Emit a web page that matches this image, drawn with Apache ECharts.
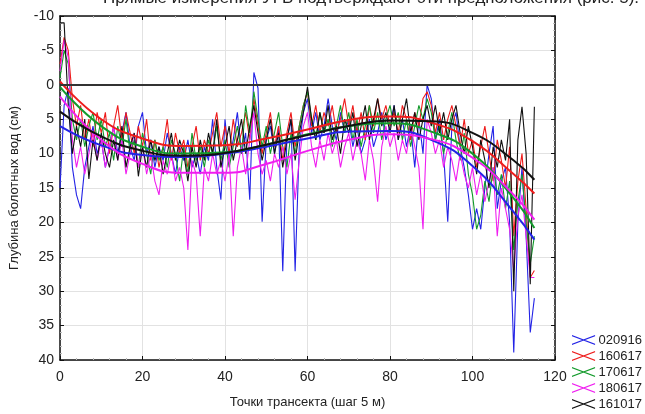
<!DOCTYPE html>
<html>
<head>
<meta charset="utf-8">
<script src="https://cdn.jsdelivr.net/npm/echarts@6/dist/echarts.min.js"></script>
<style>
  html, body { margin: 0; padding: 0; background: #fff; }
  #chart { width: 645px; height: 414px; }
</style>
</head>
<body>
<div id="chart"></div>
<script>
// названия серий (даты замеров) и цвета
const names = ["020916", "160617", "170617", "180617", "161017"];
const colors = ["#2323e6", "#ee1c1c", "#139a2b", "#f01ef0", "#111111"];

// глубина УГВ по точкам трансекта 0..115 (см)
const d020916 = [
  15, 3, 0.5, 12, 16, 18, 12, 9, 6, 10,
  8, 12, 9, 6, 10, 7, 4, 9, 11, 6,
  4, 10, 8, 12, 9, 11, 7, 10, 13, 9,
  11, 8, 12, 10, 13, 9, 11, 5, 12, 16.7,
  5, 11, 8, 4, 10, 7, 16.7, -1.8, 0.5, 19.9,
  8, 6, 10, 6, 27.1, 8, 5, 27.1, 9, 4,
  2, 7, 4, 8, 6, 2, 6, 8, 4, 7,
  5, 9, 6, 10, 8, 5, 9, 7, 4, 8,
  6, 3, 8, 5, 9, 6, 12, 5, 10, 0,
  2, 8, 5, 10, 19.9, 6, 4, 9, 12, 16,
  21, 18, 21, 15, 10, 6, 18, 14, 12, 20,
  38.9, 20, 12, 22, 36, 31
];
const d160617 = [
  -3, -6.9, -5, 2, 6, 3, 8, 5, 9, 4,
  7, 4, 10, 6, 3, 8, 4, 7, 10, 6,
  9, 5, 11, 8, 12, 9, 5, 11, 7, 10,
  8, 12, 9, 6, 11, 8, 10, 7, 4, 9,
  6, 10, 5, 9, 7, 4, 8, 2, 6, 10,
  7, 4, 9, 6, 11, 7, 4, 9, 6, 3,
  1, 6, 3, 7, 4, 6, 3, 7, 5, 2,
  6, 3, 7, 4, 8, 3, 6, 2, 5, 3,
  6, 4, 7, 3, 5, 8, 4, 6, 2, 1,
  3, 7, 4, 8, 5, 3, 6, 9, 5, 10,
  8, 12, 9, 6, 10, 14, 8, 11, 15, 9,
  22, 14, 10, 18, 28, 27
];
const d170617 = [
  -1, -5, -3, 5, 8, 5, 9, 6, 4, 8,
  5, 9, 7, 11, 6, 9, 5, 10, 8, 12,
  7, 10, 13, 8, 11, 9, 12, 8, 10, 14,
  9, 13, 7, 11, 9, 12, 8, 10, 6, 11,
  8, 12, 9, 6, 10, 3, 7, 1, 5, 9,
  6, 10, 7, 4, 9, 12, 7, 10, 6, 3,
  1, 5, 8, 4, 7, 5, 9, 6, 3, 7,
  4, 8, 5, 9, 6, 3, 7, 4, 8, 5,
  3, 6, 4, 8, 5, 9, 6, 3, 5, 2,
  4, 8, 6, 10, 7, 4, 8, 11, 7, 13,
  16, 21, 19, 14, 17, 12, 16, 13, 18, 14,
  24, 17, 13, 20, 26, 22
];
const d180617 = [
  -2, -6.5, -4, 8, 12, 9, 13, 10, 7, 11,
  8, 12, 9, 6, 11, 8, 13, 10, 7, 12,
  9, 13, 10, 14, 16, 11, 13, 10, 14, 12,
  15, 24, 11, 13, 22, 12, 14, 10, 13, 11,
  14, 10, 22, 12, 9, 13, 8, 4, 10, 13,
  11, 14, 10, 12, 9, 13, 10, 16.7, 11, 6,
  4, 9, 12, 8, 11, 7, 10, 8, 12, 9,
  7, 11, 8, 10, 13.9, 8, 11, 17, 9, 6,
  9, 7, 11, 8, 10, 6, 9, 12, 21, 5,
  7, 10, 8, 12, 9, 11, 14, 10, 13, 15,
  12, 16, 13, 17, 14, 12, 22, 15, 18, 21,
  27, 19, 16, 22, 28, 28
];
const d161017 = [
  -9, -9, 3, 10, 6, 9, 5, 13.7, 8, 11,
  7, 10, 12, 8, 11, 6, 12, 9, 7, 13.3,
  9, 12, 8, 11, 9, 13, 10, 7, 11, 8,
  10, 14, 9, 12, 8, 11, 7, 10, 5, 12,
  9, 6, 11, 8, 5, 10, 6, 3, 7, 11,
  8, 5, 10, 7, 12, 8, 5, 11, 7, 4,
  0.3, 5, 8, 4, 7, 3, 8, 6, 10, 5,
  7, 4, 9, 6, 3, 8, 5, 2, 6, 4,
  7, 3, 8, 5, 2, 7, 4, 8, 5, 3,
  6, 3, 7, 4, 8, 5, 3, 7, 10, 6,
  9, 13, 8, 11, 15, 9, 12, 8, 11, 5,
  30, 8, 3.2, 10, 29, 3.2
];
const rawData = [d020916, d160617, d170617, d180617, d161017];

// полиномиальные тренды (сглаженные кривые)
const trendX = [0, 10, 20, 30, 40, 50, 60, 70, 80, 90, 100, 110, 115];
const t020916 = [6, 8.8, 10.2, 10.5, 10, 9, 7.8, 6.8, 6.7, 8, 11.8, 18.5, 22.5];
const t160617 = [-0.5, 5, 7.8, 8.9, 8.8, 7.8, 6.5, 5.1, 4.6, 5.5, 8.2, 13, 15.8];
const t170617 = [0.3, 6, 9, 10, 9.8, 8.7, 7.2, 6, 5.6, 6.8, 10, 16.5, 20.8];
const t180617 = [1.7, 8, 11.5, 12.8, 12.8, 11.5, 9.6, 8, 7.2, 7.9, 10.6, 16, 19.6];
const t161017 = [3.9, 7.5, 9.6, 10.3, 9.9, 8.7, 7.3, 6, 5.2, 5.3, 7, 11, 13.8];
const trendData = [t020916, t160617, t170617, t180617, t161017];

const chart = echarts.init(document.getElementById("chart"));

// иконка легенды - сплющенный крестик
const crossIcon = "path://M0,0 L24,9 L24,10.4 L0,1.4 Z M0,9 L24,0 L24,1.4 L0,10.4 Z";

const series = [];
names.forEach((name, i) => {
  series.push({
    name: name,
    type: "line",
    data: rawData[i].map((v, k) => [k, v]),
    showSymbol: false,
    lineStyle: { width: 1.1, color: colors[i] },
    itemStyle: { color: colors[i] },
    z: 2,
  });
});
names.forEach((name, i) => {
  series.push({
    name: name + " trend",
    type: "line",
    data: trendX.map((x, k) => [x, trendData[i][k]]),
    smooth: 0.5,
    showSymbol: false,
    lineStyle: { width: 2, color: colors[i] },
    z: 3,
  });
});
// линия нулевого уровня
series[0].markLine = {
  silent: true,
  symbol: "none",
  label: { show: false },
  lineStyle: { color: "#333", width: 2, type: "solid" },
  data: [{ yAxis: 0 }],
};

const axisText = { color: "#222", fontFamily: "Arial, Liberation Sans", fontSize: 14 };
const tickStyle = { inside: true, length: 4, lineStyle: { color: "#111" } };
const minorStyle = { show: true, splitNumber: 5, length: 2, lineStyle: { color: "#bbb" } };

chart.setOption({
  animation: false,
  backgroundColor: "#fff",
  textStyle: { fontFamily: "Arial, Liberation Sans" },
  graphic: [
    {
      type: "text",
      left: 103,
      top: -10,
      style: {
        text: "Прямые измерения УГВ подтверждают эти предположения (рис. 5).",
        font: "17px Arial, Liberation Sans",
        fill: "#222",
      },
    },
  ],
  grid: { left: 59, right: 90, top: 16, bottom: 48, containLabel: false },
  legend: {
    orient: "vertical",
    left: 572,
    top: 333,
    padding: 0,
    itemGap: 2,
    itemWidth: 24,
    itemHeight: 10,
    icon: crossIcon,
    data: names,
    textStyle: { fontSize: 13, lineHeight: 14, color: "#222", fontFamily: "Arial, Liberation Sans", padding: [0, 0, 0, -2] },
  },
  xAxis: [
    {
      type: "value",
      min: 0,
      max: 120,
      interval: 20,
      name: "Точки трансекта (шаг 5 м)",
      nameLocation: "middle",
      nameGap: 36,
      nameTextStyle: { fontSize: 13, color: "#222" },
      axisLine: { onZero: false, lineStyle: { color: "#111", width: 1.5 } },
      axisTick: tickStyle,
      minorTick: minorStyle,
      axisLabel: Object.assign({ margin: 10 }, axisText),
      splitLine: { show: true, lineStyle: { color: "#e2e2e2", width: 1 } },
    },
    {
      type: "value",
      position: "top",
      min: 0,
      max: 120,
      interval: 20,
      axisLine: { show: true, onZero: false, lineStyle: { color: "#111", width: 1.5 } },
      axisTick: tickStyle,
      minorTick: minorStyle,
      axisLabel: { show: false },
      splitLine: { show: false },
    },
  ],
  yAxis: [
    {
      type: "value",
      inverse: true,
      min: -10,
      max: 40,
      interval: 5,
      name: "Глубина болотных вод (см)",
      nameLocation: "middle",
      nameGap: 39,
      nameTextStyle: { fontSize: 13, color: "#222" },
      axisLine: { show: true, onZero: false, lineStyle: { color: "#111", width: 1.5 } },
      axisTick: Object.assign({ show: true }, tickStyle),
      minorTick: minorStyle,
      axisLabel: Object.assign({ margin: 6 }, axisText),
      splitLine: { show: true, lineStyle: { color: "#e2e2e2", width: 1 } },
    },
    {
      type: "value",
      position: "right",
      inverse: true,
      min: -10,
      max: 40,
      interval: 5,
      axisLine: { show: true, onZero: false, lineStyle: { color: "#111", width: 1.5 } },
      axisTick: Object.assign({ show: true }, tickStyle),
      minorTick: minorStyle,
      axisLabel: { show: false },
      splitLine: { show: false },
    },
  ],
  series: series,
});
</script>
</body>
</html>
